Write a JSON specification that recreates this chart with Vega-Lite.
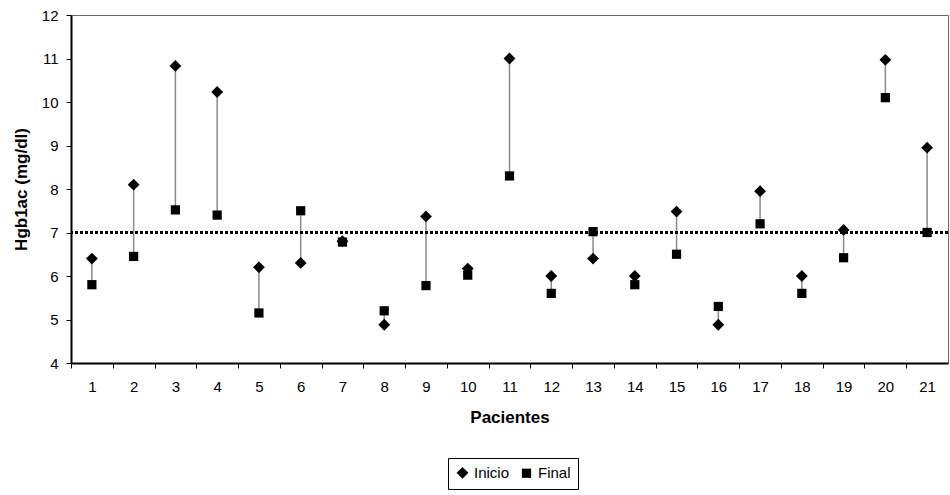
{
  "$schema": "https://vega.github.io/schema/vega-lite/v6.json",
  "width": 877,
  "height": 348,
  "autosize": "none",
  "padding": {"left": 71, "top": 15, "right": 2, "bottom": 132},
  "background": "white",
  "config": {
    "font": "Liberation Sans",
    "view": {"stroke": "#666", "strokeWidth": 1},
    "axis": {
      "domainColor": "black",
      "domainWidth": 2,
      "tickColor": "black",
      "tickWidth": 1,
      "tickSize": 5,
      "labelColor": "black",
      "labelFont": "Liberation Sans",
      "labelFontSize": 15,
      "titleFont": "Liberation Sans",
      "titleFontSize": 17,
      "titleFontWeight": "bold",
      "titleColor": "black",
      "grid": false
    }
  },
  "data": {
    "values": [
      {"p": 1, "Inicio": 6.4, "Final": 5.8},
      {"p": 2, "Inicio": 8.1, "Final": 6.45},
      {"p": 3, "Inicio": 10.83, "Final": 7.52},
      {"p": 4, "Inicio": 10.23, "Final": 7.4},
      {"p": 5, "Inicio": 6.2, "Final": 5.15},
      {"p": 6, "Inicio": 6.3, "Final": 7.5},
      {"p": 7, "Inicio": 6.8, "Final": 6.78},
      {"p": 8, "Inicio": 4.88, "Final": 5.2},
      {"p": 9, "Inicio": 7.37, "Final": 5.78},
      {"p": 10, "Inicio": 6.17, "Final": 6.02},
      {"p": 11, "Inicio": 11.0, "Final": 8.3},
      {"p": 12, "Inicio": 6.0, "Final": 5.6},
      {"p": 13, "Inicio": 6.4, "Final": 7.02},
      {"p": 14, "Inicio": 6.0, "Final": 5.8},
      {"p": 15, "Inicio": 7.48, "Final": 6.5},
      {"p": 16, "Inicio": 4.88, "Final": 5.3},
      {"p": 17, "Inicio": 7.95, "Final": 7.2},
      {"p": 18, "Inicio": 6.0, "Final": 5.6},
      {"p": 19, "Inicio": 7.06, "Final": 6.42},
      {"p": 20, "Inicio": 10.97, "Final": 10.1},
      {"p": 21, "Inicio": 8.95, "Final": 7.0}
    ]
  },
  "layer": [
    {
      "mark": {"type": "rule", "color": "#8a8a8a", "strokeWidth": 1.5},
      "encoding": {
        "x": {
          "field": "p",
          "type": "quantitative",
          "scale": {"domain": [0.5, 21.5], "nice": false, "zero": false},
          "axis": {
            "title": "Pacientes",
            "values": [1, 2, 3, 4, 5, 6, 7, 8, 9, 10, 11, 12, 13, 14, 15, 16, 17, 18, 19, 20, 21],
            "format": "d",
            "tickOffset": -20.88,
            "labelOffset": 20.88,
            "labelPadding": 11,
            "titlePadding": 15
          }
        },
        "y": {
          "field": "Inicio",
          "type": "quantitative",
          "scale": {"domain": [4, 12], "nice": false, "zero": false},
          "axis": {
            "title": "Hgb1ac (mg/dl)",
            "values": [4, 5, 6, 7, 8, 9, 10, 11, 12],
            "labelPadding": 8,
            "titlePadding": 11
          }
        },
        "y2": {"field": "Final"}
      }
    },
    {
      "mark": {"type": "rule", "color": "black", "strokeWidth": 3, "strokeDash": [3, 2]},
      "encoding": {"y": {"datum": 7, "type": "quantitative"}}
    },
    {
      "transform": [{"fold": ["Inicio", "Final"], "as": ["Serie", "Valor"]}],
      "mark": {"type": "point", "filled": true, "opacity": 1},
      "encoding": {
        "x": {"field": "p", "type": "quantitative"},
        "y": {"field": "Valor", "type": "quantitative"},
        "shape": {
          "field": "Serie",
          "type": "nominal",
          "scale": {"domain": ["Inicio", "Final"], "range": ["diamond", "square"]},
          "legend": {
            "title": null,
            "orient": "none",
            "legendX": 377,
            "legendY": 443,
            "direction": "horizontal",
            "strokeColor": "black",
            "padding": 7,
            "labelFontSize": 15,
            "labelColor": "black",
            "labelFont": "Liberation Sans",
            "symbolFillColor": "black",
            "symbolStrokeColor": "black",
            "labelOffset": 4,
            "columnPadding": 8,
            "fillColor": "white"
          }
        },
        "size": {
          "field": "Serie",
          "type": "nominal",
          "scale": {"domain": ["Inicio", "Final"], "range": [140, 85]}
        },
        "color": {"value": "black"}
      }
    }
  ]
}
